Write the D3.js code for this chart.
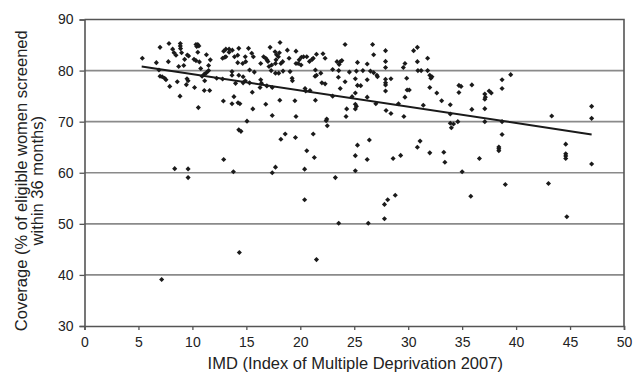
<!DOCTYPE html>
<html>
<head>
<meta charset="utf-8">
<script src="https://cdn.jsdelivr.net/npm/d3@7"></script>
<style>
  body { margin: 0; background: #fff; }
  svg { display: block; font-family: "Liberation Sans", Arial, sans-serif; }
</style>
</head>
<body>
<svg id="chart"></svg>
<script>
// IMD score per practice (x) and screening coverage % (y)
const imd = [
  5.36, 6.66, 7.0, 7.83, 7.77, 8.17, 8.3, 8.48, 8.88, 8.88, 8.9, 9.0, 9.28, 9.53, 9.65, 8.73, 9.2,
  10.33, 10.5, 10.4, 10.6, 10.5, 10.15, 10.33, 10.65, 11.3, 11.66, 11.5, 10.77, 11.5, 11.3, 11.1,
  10.9, 11.14, 11.1, 11.6, 10.2, 9.5, 9.6, 9.44, 8.6, 7.9, 7.0, 7.2, 7.43, 7.55, 6.9, 8.85, 10.55,
  12.25, 12.8, 12.87, 13.67, 13.85, 14.23, 14.4, 14.0, 14.7, 14.9, 15.3, 15.55, 15.6, 13.67, 13.67,
  14.3, 14.7, 15.3, 15.74, 12.9, 13.1, 13.4, 13.7, 13.4, 14.3, 15.2, 12.8, 13.0, 13.1, 13.9, 14.2,
  14.2, 14.66, 14.94, 15.5, 15.65, 14.9,
  16.33, 16.6, 16.8, 16.9, 17.0, 17.1, 17.35, 17.3, 17.2, 17.66, 17.8, 17.97, 18.06, 17.75, 17.7,
  18.12, 18.2, 18.37, 17.7, 18.0, 18.4, 18.8, 18.96, 19.05, 19.24, 19.27, 19.6, 19.6, 19.9, 19.8,
  20.1, 20.07, 20.3, 20.6, 20.44, 20.5, 20.9, 20.85, 21.1, 21.2, 21.5, 21.4, 21.37, 21.5, 21.9,
  22.1, 22.3, 22.0, 22.3, 23.0, 23.0, 23.4, 23.7, 23.85, 23.6, 23.56, 23.53, 23.7, 24.15, 24.15,
  24.55, 24.8, 25.1, 25.3, 25.2, 25.1, 25.3, 25.6, 25.8, 26.2, 26.2, 26.2, 26.5, 26.8, 26.7, 26.8,
  27.0, 27.1, 27.15, 27.9, 27.9, 27.9, 27.9, 27.9, 27.9, 27.9, 28.4, 27.95, 28.4, 29.1, 29.55, 29.7,
  29.6, 29.86, 29.9, 30.1, 29.7, 30.5, 30.85, 30.85, 30.9, 31.2, 31.8, 31.8, 32.0, 32.2, 32.1, 32.0,
  32.65, 31.4, 33.1, 33.9, 16.33, 16.4, 16.27, 16.9, 17.4, 18.1, 16.8, 17.4, 19.5, 19.6, 21.4, 22.45,
  24.3, 24.24, 25.1, 25.2, 25.1,
  33.9, 34.7, 34.9, 34.7, 35.9, 37.1, 37.15, 37.1, 37.5, 37.7, 38.7, 38.7, 39.5, 35.9, 37.1, 43.3,
  47.0, 47.0,
  33.9, 34.2, 34.6, 34.0, 37.1, 38.7, 38.7, 33.3, 33.4, 35.0, 36.6, 38.4, 38.4, 38.4, 39.0, 35.8,
  44.6, 44.6, 44.6, 44.6, 47.0, 43.0, 44.7,
  22.4, 22.5, 18.2, 18.6, 19.55, 21.2, 20.6, 21.3, 17.4, 17.7, 20.4, 23.25, 20.4, 25.3, 26.4, 25.1,
  26.2, 25.1, 28.6, 29.3, 30.85, 31.1, 32.0, 28.8, 28.1, 27.8, 27.8,
  15.06, 14.3, 14.5, 12.9, 13.8, 8.36, 9.6, 9.6,
  7.15, 14.35, 21.5, 23.56, 26.3
]
const coverage = [
  82.4, 81.55, 84.55, 85.3, 81.75, 84.2, 83.5, 83.0, 85.3, 84.8, 84.3, 83.5, 82.2, 83.05, 82.85, 80.8, 81.0,
  85.1, 85.1, 84.7, 84.8, 83.6, 82.2, 81.95, 81.7, 83.1, 82.1, 81.0, 80.4, 80.0, 79.6, 79.3,
  78.9, 78.0, 76.1, 76.1, 76.7, 78.4, 78.0, 77.25, 77.8, 76.9, 78.9, 78.8, 78.5, 78.2, 80.1, 75.0, 72.75,
  78.5, 78.35, 74.05, 73.5, 74.9, 73.7, 73.5, 77.5, 77.6, 78.0, 77.6, 75.75, 72.5, 79.8, 79.1,
  79.1, 78.8, 80.1, 79.7, 83.8, 84.2, 84.2, 84.0, 83.6, 84.35, 84.35, 82.4, 82.6, 82.7, 82.7, 83.0,
  81.55, 81.4, 81.75, 83.4, 82.7, 82.7,
  81.4, 82.7, 82.4, 82.1, 81.8, 80.8, 81.1, 80.0, 84.55, 83.7, 83.1, 82.7, 83.5, 82.1, 81.4,
  85.5, 81.4, 81.75, 79.5, 79.5, 79.9, 84.0, 82.4, 79.8, 78.5, 78.0, 83.8, 81.4, 82.1, 81.4,
  82.6, 81.1, 82.7, 82.7, 76.5, 76.0, 76.1, 81.8, 82.2, 82.4, 83.2, 80.1, 78.9, 79.1, 79.5,
  83.3, 82.4, 77.6, 77.4, 80.2, 75.0, 81.75, 81.75, 81.95, 81.2, 80.0, 78.7, 76.5, 85.1, 77.8,
  79.7, 74.9, 75.6, 81.6, 79.9, 78.4, 77.1, 77.05, 80.0, 81.3, 78.2, 74.8, 79.9, 79.6, 85.1, 83.1,
  73.5, 79.1, 78.8, 83.9, 81.8, 80.6, 78.3, 77.6, 77.2, 76.0, 78.4, 72.2, 71.6, 73.5, 80.6, 81.4,
  71.0, 78.5, 76.2, 76.2, 74.8, 83.9, 84.55, 81.75, 80.0, 80.0, 82.4, 80.0, 79.1, 78.8, 78.5, 76.7,
  75.6, 73.2, 74.1, 71.5, 78.2, 77.5, 76.7, 77.0, 76.7, 74.2, 73.4, 71.2, 74.1, 71.0, 74.2, 70.5,
  72.5, 71.0, 73.4, 73.0, 72.5,
  73.3, 77.1, 76.9, 75.7, 77.2, 75.4, 74.8, 74.4, 76.0, 75.6, 78.2, 76.5, 79.2, 72.4, 72.55, 71.1,
  73.0, 70.65,
  69.7, 69.55, 70.0, 68.8, 70.0, 70.0, 67.5, 64.0, 62.05, 60.2, 62.8, 65.05, 64.7, 64.3, 57.7, 55.4,
  65.6, 63.7, 63.3, 62.8, 61.7, 57.9, 51.4,
  70.2, 69.2, 66.55, 67.6, 66.9, 67.6, 64.3, 63.0, 60.0, 61.1, 60.7, 59.05, 54.7, 65.4, 66.4, 63.35,
  62.6, 60.4, 62.8, 63.4, 65.0, 66.2, 63.9, 55.6, 54.7, 53.8, 51.0,
  70.1, 68.4, 68.1, 62.6, 60.2, 60.8, 60.75, 59.05,
  39.1, 44.4, 43.0, 50.1, 50.1
]
// linear trend line end points
const trendX = [5.3, 47]
const trendY = [80.8, 67.5]

const xTicks = [0, 5, 10, 15, 20, 25, 30, 35, 40, 45, 50]
const yTicks = [30, 40, 50, 60, 70, 80, 90]
const xTitle = "IMD (Index of Multiple Deprivation 2007)"
const yTitle = ["Coverage (% of eligible women screened", "within 36 months)"]

const width = 635, height = 372
const margin = {top: 19.5, right: 11, bottom: 46, left: 84.5}

const svg = d3.select("#chart").attr("width", width).attr("height", height)

const x = d3.scaleLinear().domain([0, 50]).range([margin.left, width - margin.right])
const y = d3.scaleLinear().domain([30, 90]).range([height - margin.bottom, margin.top])

// gridlines
svg.append("g")
  .selectAll("line")
  .data(yTicks.filter(d => d > 30 && d < 90))
  .enter().append("line")
    .attr("x1", x(0)).attr("x2", x(50))
    .attr("y1", d => y(d)).attr("y2", d => y(d))
    .style("stroke", "#8a8a8a")
    .style("stroke-width", 1.6)

// frame (top + right)
svg.append("path")
  .attr("d", `M${x(0)},${y(90)}H${x(50)}V${y(30)}`)
  .style("fill", "none")
  .style("stroke", "#555")
  .style("stroke-width", 1.6)

const xAxis = g => g
  .attr("transform", `translate(0,${y(30)})`)
  .call(d3.axisBottom(x).tickValues(xTicks).tickSize(4).tickPadding(7).tickFormat(d3.format("d")))

const yAxis = g => g
  .attr("transform", `translate(${x(0)},0)`)
  .call(d3.axisLeft(y).tickValues(yTicks).tickSize(5).tickPadding(6).tickFormat(d3.format("d")))

for (const ax of [xAxis, yAxis]) {
  const g = svg.append("g").call(ax)
  g.select(".domain").style("stroke", "#555").style("stroke-width", 1.6)
  g.selectAll(".tick line").style("stroke", "#555").style("stroke-width", 1.3)
  g.selectAll("text")
    .style("font-size", "14px")
    .style("fill", "#222")
    .style("font-family", '"Liberation Sans", Arial, sans-serif')
}

// points
const points = imd.map((v, i) => ({imd: v, cov: coverage[i]}))
const diamond = d3.symbol().type(d3.symbolSquare).size(13)
svg.append("g")
  .selectAll("path")
  .data(points)
  .enter().append("path")
    .attr("d", diamond)
    .attr("transform", d => `translate(${x(d.imd)},${y(d.cov)}) rotate(45)`)
    .style("fill", "#1a1a1a")

// trend line
const line = d3.line().x(d => x(d[0])).y(d => y(d[1]))
svg.append("path")
  .attr("d", line(d3.zip(trendX, trendY)))
  .style("fill", "none")
  .style("stroke", "#1a1a1a")
  .style("stroke-width", 2)

// axis titles
svg.append("text")
  .attr("x", (x(0) + x(50)) / 2 + 1)
  .attr("y", 369)
  .attr("text-anchor", "middle")
  .style("font-size", "16.5px")
  .style("fill", "#222")
  .text(xTitle)

svg.append("g")
  .attr("transform", `translate(0,${(y(30) + y(90)) / 2 + 8}) rotate(-90)`)
  .selectAll("text")
  .data(yTitle)
  .enter().append("text")
    .attr("x", 0)
    .attr("y", (d, i) => 27 + i * 16)
    .attr("text-anchor", "middle")
    .style("font-size", "16.5px")
    .style("fill", "#222")
    .text(d => d)
</script>
</body>
</html>
